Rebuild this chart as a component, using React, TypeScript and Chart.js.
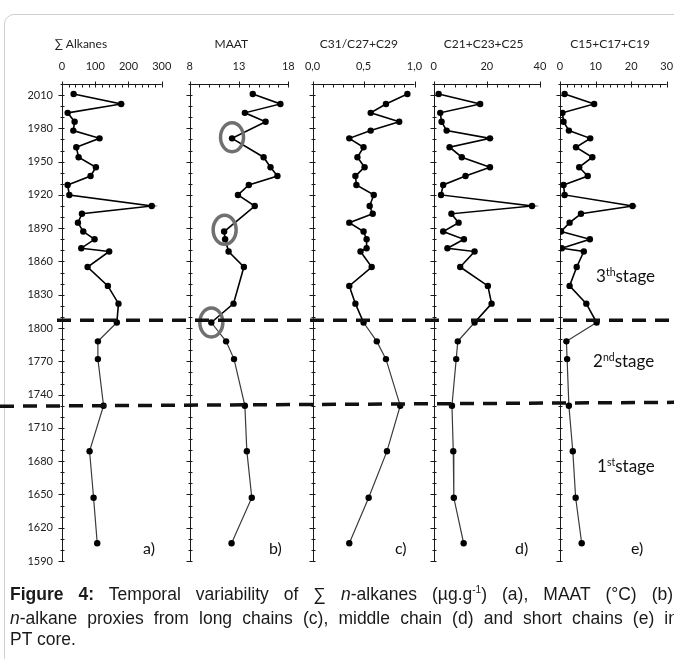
import React, { useEffect, useRef } from 'react';
import { Chart, registerables } from 'chart.js';

Chart.register(...registerables);

// ---------------- data ----------------
const sampleYears = [2011, 2002, 1994, 1986, 1978, 1971, 1963, 1954, 1945, 1937, 1929, 1920, 1910, 1903, 1895, 1887, 1880, 1872, 1869, 1855, 1838, 1822, 1805, 1788, 1772, 1730, 1689, 1647, 1606];
const sumAlkanes = [35, 178, 17, 38, 34, 113, 43, 50, 102, 86, 17, 22, 270, 60, 48, 64, 98, 58, 142, 77, 138, 170, 165, 108, 108, 125, 83, 95, 106];
const maat = [14.4, 17.2, 13.6, 15.7, null, 12.3, null, 15.5, 16.2, 16.9, 14.0, 12.9, 14.6, null, null, 11.5, 11.6, null, 11.95, 13.5, null, 12.45, 10.2, 11.7, 12.5, 13.6, 13.8, 14.3, 12.25];
const longChainRatio = [0.93, 0.72, 0.57, 0.85, 0.57, 0.36, 0.5, 0.44, 0.51, 0.42, 0.43, 0.6, 0.56, 0.59, 0.36, 0.5, 0.53, 0.53, 0.47, 0.58, 0.36, 0.42, 0.5, 0.63, 0.72, 0.86, 0.73, 0.55, 0.36];
const middleChains = [1.9, 17.5, 2.5, 3.0, 4.9, 21.2, 6.0, 10.6, 21.2, 12.0, 3.6, 2.8, 37.0, 6.7, 9.4, 3.6, 11.4, 5.2, 15.4, 10.0, 20.4, 21.8, 15.4, 9.1, 8.5, 6.9, 7.4, 7.6, 11.3];
const shortChains = [1.3, 9.6, 0.7, 1.0, 2.5, 8.5, 4.5, 9.1, 5.4, 7.8, 1.0, 1.3, 20.4, 5.9, 2.7, 0.3, 8.4, 0.5, 6.7, 4.7, 2.7, 7.4, 10.3, 1.8, 2.0, 2.5, 3.6, 4.4, 6.1];

const panelSeries = [sumAlkanes, maat, longChainRatio, middleChains, shortChains];
const panelTitles = ['∑ Alkanes', 'MAAT', 'C31/C27+C29', 'C21+C23+C25', 'C15+C17+C19'];
const panelLetters = ['a)', 'b)', 'c)', 'd)', 'e)'];
const xAxisMin = [0, 8, 0, 0, 0];
const xAxisMax = [300, 18, 1, 40, 30];
const xMinorStep = [20, 1, 0.1, 4, 2];
const xMajorStep = [100, 5, 0.5, 20, 10];

const yearMin = 1590;
const yearMax = 2020;
const yearMinorStep = 10;
const yearMajorStep = 30;

// stage boundaries (year at left edge / right edge of figure)
const boundaryYearsLeft = [1807, 1729.5];
const boundaryYearsRight = [1807, 1733];
// highlighted MAAT samples (grey rings)
const ringMaat = [12.3, 11.55, 10.2];
const ringYears = [1972, 1888.5, 1805];

const stageNumbers = ['3', '2', '1'];
const stageSuffixes = ['th', 'nd', 'st'];

// ---------------- layout ----------------
const FONT = 'Lato, "Open Sans", sans-serif';
const FIG_W = 674;
const FIG_H = 659;
const CANVAS_H = 580;
const AREA_TOP = 84;
const AREA_BOTTOM = 561;
const TITLE_PAD_TOP = 37;
const TITLE_SIZE = 12;
const TITLE_BOX_H = TITLE_PAD_TOP + TITLE_SIZE * 1.2;

const panelsLayout = [
  { canvasLeft: 0, canvasRight: 208, areaLeft: 62, areaRight: 161.7 },
  { canvasLeft: 159, canvasRight: 295, areaLeft: 174.3, areaRight: 288.3 },
  { canvasLeft: 294, canvasRight: 430, areaLeft: 303.3, areaRight: 414.5 },
  { canvasLeft: 421, canvasRight: 555, areaLeft: 427.3, areaRight: 540 },
  { canvasLeft: 547, canvasRight: 682, areaLeft: 553.5, areaRight: 666.7 },
];
const boundaryStartX = [57, 0];
const stageLabelPos = [
  { left: 596, top: 266 },
  { left: 593, top: 351 },
  { left: 597, top: 456 },
];
const letterLeft = [143, 269, 395, 515, 631];
const letterTop = 538;

function isMultiple(v: number, base: number, step: number) {
  const k = (v - base) / step;
  return Math.abs(k - Math.round(k)) < 1e-6;
}

function fmtTick(i: number, v: number) {
  if (i === 2) return v.toFixed(1).replace('.', ',');
  return String(Math.round(v));
}

function makeAxesPlugin(i: number) {
  return {
    id: 'panelAxes' + i,
    beforeDatasetsDraw(chart: any) {
      const { ctx, chartArea: a, scales } = chart;
      ctx.save();
      ctx.strokeStyle = '#1a1a1a';
      ctx.lineWidth = 1;
      ctx.beginPath();
      const ty = Math.round(a.top) + 0.5;
      const lx = Math.round(a.left) + 0.5;
      ctx.moveTo(a.left, ty);
      ctx.lineTo(a.right, ty);
      ctx.moveTo(lx, a.top);
      ctx.lineTo(lx, a.bottom);
      const nX = Math.round((xAxisMax[i] - xAxisMin[i]) / xMinorStep[i]);
      for (let k = 0; k <= nX; k++) {
        const v = xAxisMin[i] + k * xMinorStep[i];
        const px = Math.round(scales.x.getPixelForValue(v)) + 0.5;
        const major = isMultiple(v, xAxisMin[i], xMajorStep[i]);
        ctx.moveTo(px, ty - (major ? 3 : 0));
        ctx.lineTo(px, ty + 3);
      }
      for (let v = yearMin; v <= yearMax; v += yearMinorStep) {
        const py = Math.round(scales.y.getPixelForValue(v)) + 0.5;
        const major = isMultiple(v, yearMin, yearMajorStep);
        ctx.moveTo(lx - (major ? 4 : 2), py);
        ctx.lineTo(lx + 2, py);
      }
      ctx.stroke();
      ctx.restore();
    },
  };
}

const ringPlugin = {
  id: 'maatRings',
  afterDatasetsDraw(chart: any) {
    const { ctx, scales } = chart;
    ctx.save();
    ctx.strokeStyle = '#707070';
    ctx.lineWidth = 3.5;
    ringMaat.forEach((m, k) => {
      const x = scales.x.getPixelForValue(m);
      const y = scales.y.getPixelForValue(ringYears[k]);
      ctx.beginPath();
      ctx.ellipse(x, y, 11.5, 14.5, 0, 0, Math.PI * 2);
      ctx.stroke();
    });
    ctx.restore();
  },
};

function buildConfig(i: number): any {
  const L = panelsLayout[i];
  const values = panelSeries[i];
  const points = sampleYears
    .map((year, k) => ({ x: values[k], y: year }))
    .filter((p) => p.x !== null && p.x !== undefined);
  const plugins: any[] = [makeAxesPlugin(i)];
  if (i === 1) plugins.push(ringPlugin);
  return {
    type: 'line',
    data: {
      datasets: [
        {
          data: points,
          borderColor: '#000',
          borderWidth: 1.6,
          pointRadius: 3.2,
          pointBackgroundColor: '#000',
          pointBorderColor: '#000',
          pointBorderWidth: 0,
          tension: 0,
          fill: false,
          segment: {
            borderColor: (c: any) => (c.p0.parsed.y < 1806 ? '#3a3a3a' : '#000'),
            borderWidth: (c: any) => (c.p0.parsed.y < 1806 ? 1.2 : 1.6),
          },
        },
      ],
    },
    options: {
      responsive: false,
      animation: false,
      devicePixelRatio: 1,
      events: [],
      layout: {
        padding: {
          left: i === 0 ? 0 : L.areaLeft - L.canvasLeft,
          right: L.canvasRight - L.areaRight,
          top: 0,
          bottom: CANVAS_H - AREA_BOTTOM,
        },
      },
      plugins: {
        legend: { display: false },
        tooltip: { enabled: false },
        title: {
          display: true,
          text: panelTitles[i],
          color: '#222',
          font: { family: FONT, size: TITLE_SIZE, weight: 'normal' },
          padding: { top: TITLE_PAD_TOP, bottom: 0 },
          fullSize: true,
        },
      },
      scales: {
        x: {
          type: 'linear',
          position: 'top',
          min: xAxisMin[i],
          max: xAxisMax[i],
          grid: { display: false, drawTicks: false },
          border: { display: false },
          ticks: {
            stepSize: xMinorStep[i],
            autoSkip: false,
            maxRotation: 0,
            minRotation: 0,
            padding: 11,
            color: '#222',
            font: { family: FONT, size: 11 },
            callback: (v: any) => (isMultiple(Number(v), xAxisMin[i], xMajorStep[i]) ? fmtTick(i, Number(v)) : ''),
          },
          afterFit: (s: any) => {
            s.height = AREA_TOP - TITLE_BOX_H;
            s.paddingLeft = 0;
            s.paddingRight = 0;
          },
        },
        y: {
          type: 'linear',
          min: yearMin,
          max: yearMax,
          display: i === 0,
          grid: { display: false, drawTicks: false },
          border: { display: false },
          ticks: {
            stepSize: yearMinorStep,
            autoSkip: false,
            padding: 9,
            color: '#222',
            font: { family: FONT, size: 11 },
            callback: (v: any) => (isMultiple(Number(v), yearMin, yearMajorStep) ? String(v) : ''),
          },
          afterFit: (s: any) => {
            s.width = L.areaLeft - L.canvasLeft;
            s.paddingTop = 0;
            s.paddingBottom = 0;
          },
        },
      },
    },
    plugins,
  };
}

export default function App() {
  const canvasRefs = useRef<(HTMLCanvasElement | null)[]>([]);
  const overlayRef = useRef<HTMLCanvasElement | null>(null);

  useEffect(() => {
    const charts = panelsLayout.map((_, i) => new Chart(canvasRefs.current[i] as HTMLCanvasElement, buildConfig(i)));
    const ov = overlayRef.current;
    if (ov) {
      const ctx = ov.getContext('2d');
      if (ctx) {
        ctx.clearRect(0, 0, ov.width, ov.height);
        const yScale: any = charts[0].scales.y;
        ctx.save();
        ctx.strokeStyle = '#111';
        ctx.lineWidth = 3.5;
        ctx.setLineDash([14, 9]);
        boundaryYearsLeft.forEach((yl, k) => {
          const yr = boundaryYearsRight[k];
          const x0 = boundaryStartX[k];
          const yearAtStart = yl + (yr - yl) * (x0 / FIG_W);
          ctx.beginPath();
          ctx.moveTo(x0, yScale.getPixelForValue(yearAtStart));
          ctx.lineTo(FIG_W, yScale.getPixelForValue(yr));
          ctx.stroke();
        });
        ctx.restore();
      }
    }
    return () => charts.forEach((c) => c.destroy());
  }, []);

  return (
    <div
      style={{
        position: 'fixed',
        left: 0,
        top: 0,
        width: FIG_W,
        height: FIG_H,
        overflow: 'hidden',
        background: '#fff',
      }}
    >
      <div
        style={{
          position: 'absolute',
          left: 4,
          top: 14,
          width: 760,
          height: 760,
          border: '1px solid #cfcfcf',
          borderRadius: 10,
        }}
      />
      {panelsLayout.map((L, i) => (
        <canvas
          key={i}
          ref={(el) => {
            canvasRefs.current[i] = el;
          }}
          width={L.canvasRight - L.canvasLeft}
          height={CANVAS_H}
          style={{
            position: 'absolute',
            left: L.canvasLeft,
            top: 0,
            width: L.canvasRight - L.canvasLeft,
            height: CANVAS_H,
          }}
        />
      ))}
      <canvas
        ref={overlayRef}
        width={FIG_W}
        height={CANVAS_H}
        style={{ position: 'absolute', left: 0, top: 0, width: FIG_W, height: CANVAS_H, pointerEvents: 'none' }}
      />
      {stageNumbers.map((n, k) => (
        <div
          key={'s' + k}
          style={{
            position: 'absolute',
            left: stageLabelPos[k].left,
            top: stageLabelPos[k].top,
            fontFamily: FONT,
            fontSize: 17,
            lineHeight: '20px',
            color: '#111',
            whiteSpace: 'nowrap',
          }}
        >
          {n}
          <span style={{ fontSize: 10.5, position: 'relative', top: -6 }}>{stageSuffixes[k]}</span>
          stage
        </div>
      ))}
      {panelLetters.map((t, i) => (
        <div
          key={'l' + i}
          style={{
            position: 'absolute',
            left: letterLeft[i],
            top: letterTop,
            fontFamily: FONT,
            fontSize: 16,
            lineHeight: '20px',
            color: '#111',
          }}
        >
          {t}
        </div>
      ))}
      <div
        style={{
          position: 'absolute',
          left: 10,
          top: 584,
          width: 668,
          fontFamily: '"Liberation Sans", Arial, sans-serif',
          fontSize: 17.5,
          lineHeight: '21.5px',
          color: '#1a1a1a',
        }}
      >
        <div style={{ textAlign: 'justify', textAlignLast: 'justify' as any }}>
          <b>Figure 4:</b> Temporal variability of ∑ <i>n</i>-alkanes (µg.g
          <span style={{ fontSize: 10, position: 'relative', top: -7 }}>-1</span>) (a), MAAT (°C) (b),
        </div>
        <div style={{ textAlign: 'justify', textAlignLast: 'justify' as any }}>
          <i>n</i>-alkane proxies from long chains (c), middle chain (d) and short chains (e) in
        </div>
        <div>PT core.</div>
      </div>
    </div>
  );
}
